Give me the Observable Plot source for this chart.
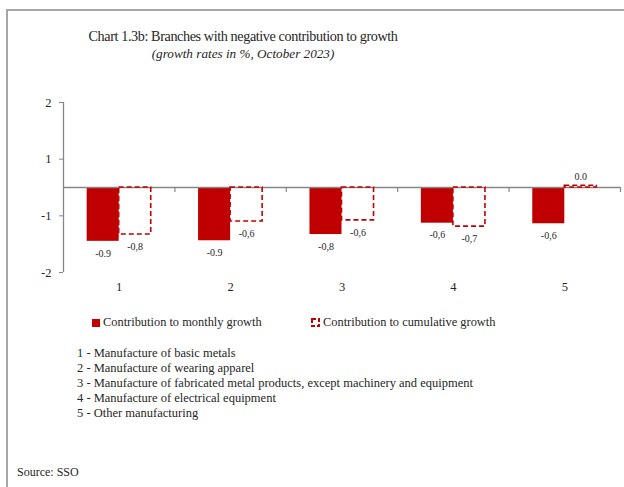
<!DOCTYPE html>
<html>
<head>
<meta charset="utf-8">
<script src="https://cdn.jsdelivr.net/npm/d3@7"></script>
<script src="https://cdn.jsdelivr.net/npm/@observablehq/plot@0.6"></script>
<style>
  html, body { margin: 0; padding: 0; background: #fff; }
  body { width: 624px; height: 487px; position: relative; overflow: hidden; font-family: "Liberation Serif", serif; color: #262626; }
  .frame { position: absolute; left: 6px; top: 9px; width: 640px; height: 500px; border-top: 2px solid #a6a6a6; border-left: 2px solid #a6a6a6; }
  .abs { position: absolute; white-space: nowrap; }
  #title { left: 243px; top: 28px; transform: translateX(-50%); font-size: 14.2px; letter-spacing: -0.4px; }
  #subtitle { left: 243px; top: 46px; transform: translateX(-50%); font-size: 13.2px; font-style: italic; }
  #chart { position: absolute; left: 0; top: 90px; }
  .leg { font-size: 12.4px; top: 315px; display: flex; align-items: center; }
  .notes { left: 77px; top: 346px; font-size: 12.5px; line-height: 15px; }
  #source { left: 17px; top: 465px; font-size: 12px; }
</style>
</head>
<body>
<div class="frame"></div>
<div id="title" class="abs"></div>
<div id="subtitle" class="abs"></div>
<div id="chart"></div>
<div id="leg1" class="abs leg" style="left:92px"></div>
<div id="leg2" class="abs leg" style="left:311px"></div>
<div id="notes" class="abs notes"></div>
<div id="source" class="abs"></div>
<script>
const titleText = "Chart 1.3b: Branches with negative contribution to growth";
const subtitleText = "(growth rates in %, October 2023)";
const categories = ["1", "2", "3", "4", "5"];
const categoryNames = [
  "Manufacture of basic metals",
  "Manufacture of wearing apparel",
  "Manufacture of fabricated metal products, except machinery and equipment",
  "Manufacture of electrical equipment",
  "Other manufacturing"
];
const seriesNames = ["Contribution to monthly growth", "Contribution to cumulative growth"];
const monthly = [-0.95, -0.94, -0.83, -0.63, -0.64];
const cumulative = [-0.83, -0.6, -0.58, -0.69, 0.03];
const monthlyLabels = ["-0.9", "-0.9", "-0,8", "-0,6", "-0,6"];
const cumulativeLabels = ["-0,8", "-0,6", "-0,6", "-0,7", "0.0"];
const yTicks = [1.5, 0.5, -0.5, -1.5];
const yTickLabels = ["2", "1", "-1", "-2"];
const sourceText = "Source:  SSO";

const red = "#C00000";
const grey = "#868686";
const halfWidth = 0.2875;

const mData = categories.map((c, i) => ({i, value: monthly[i], label: monthlyLabels[i]}));
const cData = categories.map((c, i) => ({i, value: cumulative[i], label: cumulativeLabels[i]}));
const boundaries = d3.range(1, categories.length + 1);
const centers = categories.map((c, i) => i + 0.5);

const chart = Plot.plot({
  width: 624,
  height: 210,
  marginLeft: 63,
  marginRight: 4,
  marginTop: 12,
  marginBottom: 28,
  style: {fontFamily: "Liberation Serif", fontSize: "11px", color: "#262626", background: "transparent"},
  x: {type: "linear", domain: [0, categories.length]},
  y: {domain: [-1.5, 1.5]},
  marks: [
    Plot.axisY({ticks: yTicks, tickFormat: (d, i) => yTickLabels[i], tickSize: 4, tickPadding: 8, stroke: grey, label: null, fontSize: 12.5}),
    Plot.ruleX([0], {stroke: grey, strokeWidth: 1.3}),
    Plot.axisX({ticks: centers, tickFormat: (d, i) => categories[i], tickSize: 0, tickPadding: 10, label: null, fontSize: 12.5}),
    Plot.rectY(mData, {x1: d => d.i + 0.5 - halfWidth, x2: d => d.i + 0.5, y: "value", fill: red}),
    Plot.ruleY([0], {stroke: grey, strokeWidth: 1.3}),
    Plot.ruleX(boundaries, {y1: 0, y2: 0, insetBottom: -5, stroke: grey, strokeWidth: 1.2}),
    Plot.rectY(cData, {x1: d => d.i + 0.5, x2: d => d.i + 0.5 + halfWidth, y: "value", fill: "none", stroke: red, strokeWidth: 1.6, strokeDasharray: "5,3"}),
    Plot.text(mData, {x: d => d.i + 0.5 - halfWidth / 2, y: "value", text: "label", dy: 12, fontSize: 10, fill: "#262626"}),
    Plot.text(cData.filter(d => d.value < 0), {x: d => d.i + 0.5 + halfWidth / 2, y: "value", text: "label", dy: 12, fontSize: 10, fill: "#262626"}),
    Plot.text(cData.filter(d => d.value >= 0), {x: d => d.i + 0.5 + halfWidth / 2, y: "value", text: "label", dy: -9, fontSize: 10, fill: "#262626"})
  ]
});
document.getElementById("chart").appendChild(chart);

document.getElementById("title").textContent = titleText;
document.getElementById("subtitle").textContent = subtitleText;
document.getElementById("leg1").innerHTML =
  `<svg width="8" height="8" style="margin-right:3px"><rect x="0" y="0" width="8" height="8" fill="${red}"/></svg><span></span>`;
document.querySelector("#leg1 span").textContent = seriesNames[0];
document.getElementById("leg2").innerHTML =
  `<svg width="9" height="9" style="margin-right:3px"><rect x="1" y="1" width="7" height="7" fill="none" stroke="${red}" stroke-width="2" stroke-dasharray="4,2"/></svg><span></span>`;
document.querySelector("#leg2 span").textContent = seriesNames[1];
document.getElementById("notes").innerHTML = categories.map((c, i) => `<div>${c} - ${categoryNames[i]}</div>`).join("");
document.getElementById("source").textContent = sourceText;
</script>
</body>
</html>
